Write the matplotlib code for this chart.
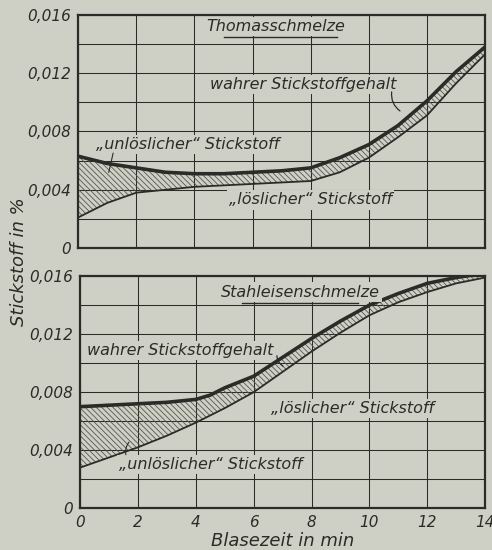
import matplotlib
matplotlib.use("Agg")
import matplotlib.pyplot as plt
import numpy as np

# Blasezeit in min
zeit = [0, 1, 2, 3, 4, 5, 6, 7, 8, 9, 10, 11, 12, 13, 14]

# Thomasschmelze: N in %
thomas_wahr = [0.0063, 0.0058, 0.0055, 0.0052, 0.0051, 0.0051, 0.0052, 0.0053,
               0.0055, 0.0062, 0.0071, 0.0084, 0.0101, 0.0121, 0.0138]
thomas_loesl = [0.0021, 0.0031, 0.0038, 0.0040, 0.0042, 0.0043, 0.0044, 0.0045,
                0.0046, 0.0052, 0.0062, 0.0076, 0.0091, 0.0113, 0.0133]

# Stahleisenschmelze: N in %
stahl_zeit = [0, 1, 2, 3, 4, 4.5, 5, 6, 7, 8, 9, 10, 11, 12, 13, 14]
stahl_wahr = [0.0070, 0.0071, 0.0072, 0.0073, 0.0075, 0.0078, 0.0083, 0.0091,
              0.0104, 0.0117, 0.0129, 0.0140, 0.0148, 0.0155, 0.0159, 0.0162]
stahl_loesl = [0.0028, 0.0035, 0.0042, 0.0050, 0.0059, 0.0064, 0.0069, 0.0080,
               0.0094, 0.0108, 0.0121, 0.0133, 0.0142, 0.0149, 0.0155, 0.0159]

y_labels = ["0", "0,004", "0,008", "0,012", "0,016"]
x_ticks = [0, 2, 4, 6, 8, 10, 12, 14]

bg = "#cfd0c5"
ink = "#2b2b28"
plt.rcParams["font.family"] = ["Liberation Sans Narrow", "DejaVu Sans"]
plt.rcParams["hatch.color"] = "#55554f"
plt.rcParams["hatch.linewidth"] = 0.6
FONT = dict(style="italic", color=ink, fontsize=11.5)

fig = plt.figure(figsize=(4.92, 5.5), dpi=100, facecolor=bg)
ax1 = fig.add_axes([0.159, 0.549, 0.827, 0.424])
ax2 = fig.add_axes([0.163, 0.076, 0.823, 0.422])


def setup(ax, show_x):
    ax.set_facecolor(bg)
    ax.set_xlim(0, 14)
    ax.set_ylim(0, 0.016)
    ax.set_xticks(x_ticks)
    ax.set_yticks(np.arange(0, 0.0161, 0.002))
    ax.grid(True, color=ink, lw=0.75)
    ax.set_yticklabels(["" if i % 2 else y_labels[i // 2] for i in range(9)],
                       **dict(FONT, fontsize=11))
    if show_x:
        ax.set_xticklabels([str(t) for t in x_ticks], **dict(FONT, fontsize=11))
    else:
        ax.set_xticklabels([])
    ax.tick_params(length=0, pad=5)
    for s in ax.spines.values():
        s.set_color(ink)
        s.set_linewidth(1.6)


def band(ax, x, upper, lower):
    ax.fill_between(x, lower, upper, facecolor="none", hatch="\\\\\\\\\\\\",
                    edgecolor="#55554f", lw=0, zorder=2)
    ax.plot(x, upper, color=ink, lw=2.6, zorder=3)
    ax.plot(x, lower, color=ink, lw=1.3, zorder=3)


def label(ax, x, y, txt):
    return ax.text(x, y, txt, ha="center", va="center", zorder=5,
                   bbox=dict(facecolor=bg, edgecolor="none", pad=1.5), **FONT)


setup(ax1, False)
band(ax1, zeit, thomas_wahr, thomas_loesl)
label(ax1, 6.8, 0.0152, "Thomasschmelze")
ax1.plot([5.0, 8.9], [0.01445, 0.01445], color=ink, lw=1.0, zorder=6)
label(ax1, 7.75, 0.0112, "wahrer Stickstoffgehalt")
ax1.annotate("", xy=(11.15, 0.0093), xytext=(10.8, 0.0109),
             arrowprops=dict(arrowstyle="-", color=ink, lw=0.9,
                             connectionstyle="arc3,rad=0.35"), zorder=6)
label(ax1, 3.75, 0.0071, "\u201eunlöslicher\u201c Stickstoff")
ax1.plot([1.2, 1.05], [0.0065, 0.0052], color=ink, lw=0.8, zorder=6)
label(ax1, 8.0, 0.0033, "\u201elöslicher\u201c Stickstoff")

setup(ax2, True)
band(ax2, stahl_zeit, stahl_wahr, stahl_loesl)
label(ax2, 7.6, 0.0149, "Stahleisenschmelze")
ax2.plot([5.6, 9.6], [0.01415, 0.01415], color=ink, lw=1.0, zorder=6)
label(ax2, 3.45, 0.0109, "wahrer Stickstoffgehalt")
ax2.annotate("", xy=(7.1, 0.0097), xytext=(6.8, 0.0107),
             arrowprops=dict(arrowstyle="-", color=ink, lw=0.9,
                             connectionstyle="arc3,rad=0.35"), zorder=6)
label(ax2, 9.4, 0.0069, "\u201elöslicher\u201c Stickstoff")
label(ax2, 4.5, 0.0030, "\u201eunlöslicher\u201c Stickstoff")
ax2.annotate("", xy=(1.75, 0.0047), xytext=(1.6, 0.0035),
             arrowprops=dict(arrowstyle="-", color=ink, lw=0.8,
                             connectionstyle="arc3,rad=-0.3"), zorder=6)
ax2.set_xlabel("Blasezeit in min", labelpad=1, **dict(FONT, fontsize=13))

fig.text(0.038, 0.525, "Stickstoff in %", rotation=90, ha="center", va="center",
         **dict(FONT, fontsize=13))

fig.savefig("out.png", dpi=100, facecolor=bg)
